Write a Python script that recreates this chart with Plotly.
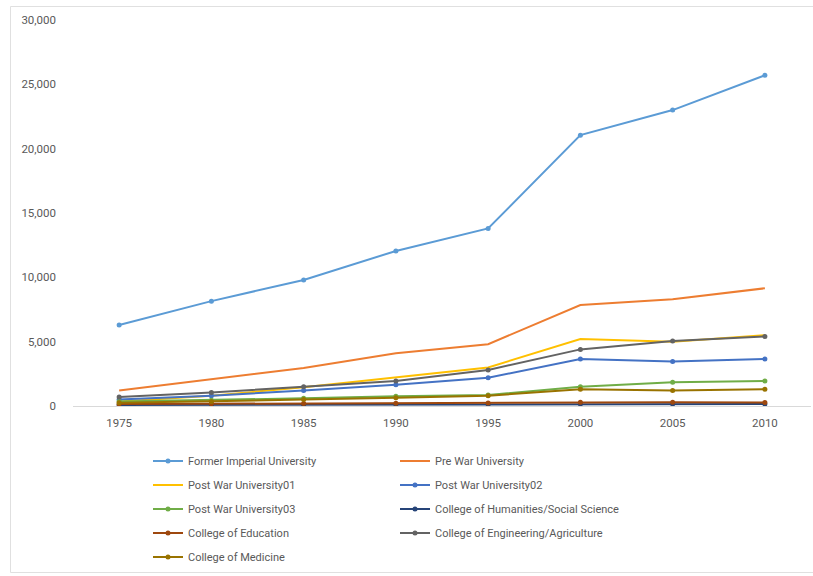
import plotly.graph_objects as go

years = [1975, 1980, 1985, 1990, 1995, 2000, 2005, 2010]

former_imperial = [6300, 8150, 9800, 12050, 13800, 21050, 23000, 25700]
pre_war = [1200, 2100, 2950, 4100, 4800, 7850, 8300, 9150]
post_war_01 = [350, 800, 1450, 2250, 3000, 5200, 5000, 5500]
post_war_02 = [500, 800, 1200, 1650, 2200, 3650, 3450, 3650]
post_war_03 = [350, 450, 600, 750, 850, 1500, 1850, 1950]
humanities_social = [80, 90, 100, 110, 120, 150, 150, 150]
education = [150, 170, 200, 220, 230, 300, 290, 280]
engineering_agri = [700, 1050, 1500, 1950, 2800, 4400, 5050, 5400]
medicine = [250, 350, 500, 650, 800, 1300, 1200, 1300]

y_ticks = [0, 5000, 10000, 15000, 20000, 25000, 30000]

# name, values, colour, show markers, legend row
series = [
    ("Former Imperial University", former_imperial, "#5B9BD5", True, "legend"),
    ("Pre War University", pre_war, "#ED7D31", False, "legend"),
    ("Post War University01", post_war_01, "#FFC000", False, "legend2"),
    ("Post War University02", post_war_02, "#4472C4", True, "legend2"),
    ("Post War University03", post_war_03, "#70AD47", True, "legend3"),
    ("College of Humanities/Social Science", humanities_social, "#264478", True, "legend3"),
    ("College of Education", education, "#9E480E", True, "legend4"),
    ("College of Engineering/Agriculture", engineering_agri, "#636363", True, "legend4"),
    ("College of Medicine", medicine, "#997300", True, "legend5"),
]

W, H = 813, 576
L, R, T, B = 73, 2, 20, 170
pw, ph = W - L - R, H - T - B


def px_to_paper_x(px):
    return (px - L) / pw


def px_to_paper_y(py):
    return (H - B - py) / ph


fig = go.Figure()
for name, vals, color, mk, lg in series:
    fig.add_trace(go.Scatter(
        x=years, y=vals, name=name,
        mode="lines+markers" if mk else "lines",
        line=dict(color=color, width=2),
        marker=dict(color=color, size=5, symbol="circle"),
        legend=lg,
    ))

legend_font = dict(family="Roboto", size=11, color="#595959")
row_centers = [461, 485, 509, 533, 557]
legend_names = ["legend", "legend2", "legend3", "legend4", "legend5"]
legend_layout = {}
for lname, cy in zip(legend_names, row_centers):
    legend_layout[lname] = dict(
        orientation="h",
        x=px_to_paper_x(148), xanchor="left",
        y=px_to_paper_y(cy), yanchor="middle",
        entrywidth=202, entrywidthmode="pixels",
        font=legend_font,
        bgcolor="rgba(0,0,0,0)",
        itemwidth=30,
        traceorder="normal",
    )

tick_font = dict(family="Roboto", size=11.5, color="#595959")

fig.update_layout(
    width=W, height=H,
    margin=dict(l=L, r=R, t=T, b=B),
    paper_bgcolor="white",
    plot_bgcolor="white",
    showlegend=True,
    **legend_layout,
    xaxis=dict(
        range=[1972.5, 2012.5],
        tickmode="array", tickvals=years, ticktext=[str(y) for y in years],
        showgrid=False, zeroline=False,
        showline=True, linecolor="#D9D9D9", linewidth=1,
        ticks="", ticklabelstandoff=6,
        tickfont=tick_font,
    ),
    yaxis=dict(
        range=[0, 30000],
        tickmode="array", tickvals=y_ticks,
        tickformat=",",
        showgrid=False, zeroline=False, showline=False,
        ticks="", ticklabelstandoff=16,
        tickfont=tick_font,
    ),
    shapes=[dict(
        type="rect", xref="paper", yref="paper",
        x0=px_to_paper_x(10.5), x1=px_to_paper_x(820),
        y0=px_to_paper_y(572.5), y1=px_to_paper_y(6.5),
        line=dict(color="#E0E0E0", width=1),
        fillcolor="rgba(0,0,0,0)", layer="below",
    )],
)

fig.write_html("out.html")
